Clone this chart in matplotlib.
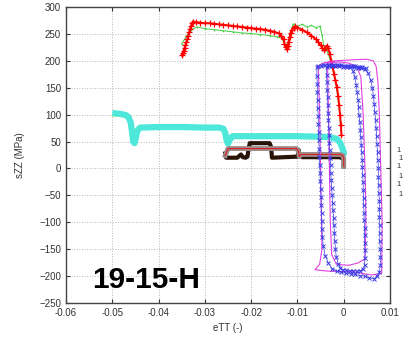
import matplotlib.pyplot as plt

# red "+" series
red_x = [-0.0350, -0.0348, -0.0346, -0.0344, -0.0342, -0.0340, -0.0338, -0.0336, -0.0334, -0.0332,
         -0.0330, -0.0328, -0.0325, -0.0320, -0.0310, -0.0300, -0.0290, -0.0280, -0.0270, -0.0260,
         -0.0250, -0.0240, -0.0230, -0.0220, -0.0210, -0.0200, -0.0190, -0.0180, -0.0170, -0.0160,
         -0.0150, -0.0140, -0.0135, -0.0130, -0.0128, -0.0125, -0.0123, -0.0121, -0.0119, -0.0117,
         -0.0115, -0.0112, -0.0108, -0.0105, -0.0100, -0.0090, -0.0080, -0.0070, -0.0060, -0.0055,
         -0.0050, -0.0046, -0.0043, -0.0040, -0.0037, -0.0034, -0.0030, -0.0027, -0.0024, -0.0021,
         -0.0018, -0.0015, -0.0012, -0.0010, -0.0008, -0.0006, -0.0005]
red_y = [210, 214, 219, 224, 229, 235, 241, 247, 253, 259,
         265, 270, 272, 272, 271, 270, 270, 269, 268, 267,
         266, 265, 264, 263, 262, 261, 260, 259, 258, 256,
         254, 251, 247, 240, 232, 226, 222, 228, 236, 244,
         252, 258, 262, 264, 262, 258, 253, 247, 240, 235,
         229, 224, 220, 224, 228, 224, 213, 200, 188, 176,
         164, 152, 135, 118, 100, 80, 62]

# green thin series
green_x = [-0.0350, -0.0340, -0.0330, -0.0318, -0.0300, -0.0280, -0.0260, -0.0240, -0.0220, -0.0203,
           -0.0180, -0.0160, -0.0145, -0.0134, -0.0128, -0.0124, -0.0118, -0.0112, -0.0109, -0.0100,
           -0.0090, -0.0080, -0.0070, -0.0060, -0.0051, -0.0047, -0.0043, -0.0038, -0.0033, -0.0028,
           -0.0022, -0.0016, -0.0010, -0.0006]
green_y = [232, 246, 257, 263, 260, 258, 256, 254, 252, 251,
           249, 247, 245, 242, 232, 222, 240, 262, 269, 264,
           268, 263, 266, 262, 264, 248, 228, 222, 212, 198,
           180, 152, 112, 70]

# cyan thick series and the yellow one beneath it
cyan_x = [-0.0500, -0.0490, -0.0480, -0.0470, -0.0465, -0.0460, -0.0457, -0.0455, -0.0452, -0.0449,
          -0.0446, -0.0440, -0.0400, -0.0350, -0.0300, -0.0270, -0.0260, -0.0256, -0.0253, -0.0250,
          -0.0247, -0.0243, -0.0240, -0.0200, -0.0150, -0.0100, -0.0050, -0.0030, -0.0015, -0.0008,
          -0.0003, 0.0000, 0.0000]
cyan_y = [103, 102, 101, 99, 95, 85, 65, 50, 47, 58,
          70, 76, 77, 77, 76, 76, 74, 66, 52, 46,
          52, 58, 60, 60, 60, 60, 59, 58, 55, 48,
          38, 30, 24]
yellow_x = [-0.0500, -0.0480, -0.0468, -0.0460, -0.0455, -0.0448, -0.0440, -0.0400, -0.0340, -0.0280]
yellow_y = [98, 97, 94, 80, 48, 66, 73, 73, 73, 73]

# black / grey step curves
black_x = [-0.0256, -0.0254, -0.0230, -0.0222, -0.0218, -0.0212, -0.0208, -0.0206, -0.0203, -0.0160,
           -0.0157, -0.0156, -0.0155, -0.0100, -0.0097, -0.0096, -0.0090, -0.0010, -0.0002, 0.0000, 0.0000]
black_y = [28, 20, 20, 26, 21, 20, 22, 34, 47, 47,
           40, 30, 20, 22, 34, 26, 21, 21, 19, 15, 4]
grey_x = [-0.0256, -0.0250, -0.0102, -0.0098, -0.0096, -0.0092, -0.0008, -0.0002, 0.0000, 0.0000]
grey_y = [24, 37, 37, 32, 22, 26, 26, 24, 18, 4]

# blue "x" hysteresis loops
blue_x = [0.0048, 0.0040, 0.0035, 0.0030, 0.0025, 0.0020, 0.0015, 0.0010, 0.0005, 0.0000,
          -0.0005, -0.0010, -0.0015, -0.0020, -0.0025, -0.0030, -0.0035, -0.0040, -0.0045, -0.0050,
          -0.0055, -0.0058,
          -0.0058, -0.0057, -0.0057, -0.0056, -0.0056, -0.0055, -0.0055, -0.0054, -0.0054, -0.0053,
          -0.0053, -0.0052, -0.0051, -0.0051, -0.0050, -0.0049, -0.0049, -0.0048, -0.0047, -0.0047,
          -0.0046, -0.0044, -0.0040, -0.0033, -0.0025, -0.0015,
          -0.0005, 0.0005, 0.0015, 0.0025, 0.0035, 0.0045, 0.0055, 0.0065, 0.0072, 0.0077,
          0.0079, 0.0079, 0.0079, 0.0078, 0.0078, 0.0078, 0.0077, 0.0077, 0.0077, 0.0076,
          0.0076, 0.0075, 0.0075, 0.0074, 0.0073, 0.0072, 0.0071, 0.0070, 0.0069, 0.0067,
          0.0066, 0.0064, 0.0062, 0.0058, 0.0052,
          0.0045, 0.0038, 0.0030, 0.0022, 0.0014, 0.0006, -0.0002, -0.0010, -0.0018, -0.0026,
          -0.0032, -0.0037,
          -0.0037, -0.0036, -0.0036, -0.0035, -0.0034, -0.0034, -0.0033, -0.0032, -0.0031, -0.0031,
          -0.0030, -0.0029, -0.0028, -0.0028, -0.0027, -0.0026, -0.0025, -0.0024, -0.0023, -0.0022,
          -0.0021, -0.0020, -0.0019, -0.0018, -0.0016, -0.0012, -0.0007, -0.0002,
          0.0005, 0.0013, 0.0021, 0.0029, 0.0036, 0.0041, 0.0045,
          0.0046, 0.0046, 0.0045, 0.0045, 0.0045, 0.0044, 0.0044, 0.0043, 0.0043, 0.0042,
          0.0042, 0.0041, 0.0040, 0.0040, 0.0039, 0.0038, 0.0037, 0.0036, 0.0035, 0.0033,
          0.0032, 0.0031, 0.0029, 0.0027, 0.0024, 0.0020]
blue_y = [186, 188, 189, 189, 190, 190, 190, 191, 191, 191,
          192, 192, 192, 193, 193, 193, 193, 192, 192, 191,
          190, 188,
          172, 157, 142, 127, 112, 97, 82, 67, 52, 37,
          22, 7, -8, -23, -38, -53, -68, -83, -98, -113,
          -128, -145, -162, -176, -186, -191,
          -193, -195, -196, -197, -199, -200, -203, -205, -200, -193,
          -180, -165, -150, -135, -120, -105, -90, -75, -60, -45,
          -30, -15, 0, 15, 30, 45, 60, 75, 90, 105,
          120, 135, 150, 165, 178,
          184, 186, 187, 188, 188, 189, 189, 190, 190, 190,
          190, 188,
          174, 160, 146, 132, 118, 104, 90, 76, 62, 48,
          34, 20, 6, -8, -22, -36, -50, -64, -78, -92,
          -106, -120, -134, -150, -165, -177, -185, -188,
          -189, -190, -190, -191, -190, -187, -180,
          -166, -152, -138, -124, -110, -96, -82, -68, -54, -40,
          -26, -12, 2, 16, 30, 44, 58, 72, 86, 100,
          114, 128, 142, 156, 170, 182]

# magenta thin loops
mag_x = [-0.0055, -0.0052, -0.0050, -0.0048, -0.0047, -0.0052, -0.0062, -0.0045, -0.0030, 0.0020,
         0.0060, 0.0082, 0.0083, 0.0080, 0.0077, 0.0074, 0.0070, 0.0064, 0.0050, 0.0020,
         -0.0020, -0.0045, -0.0055, None,
         -0.0035, -0.0033, -0.0031, -0.0029, -0.0026, -0.0016, 0.0010, 0.0030, 0.0046, 0.0048,
         0.0046, 0.0042, 0.0037, 0.0028, 0.0010, -0.0010, -0.0035]
mag_y = [190, 100, 0, -100, -150, -178, -188, -190, -191, -192,
         -198, -195, -100, 0, 100, 160, 190, 200, 203, 202,
         200, 196, 190, None,
         196, 100, 0, -100, -160, -178, -180, -176, -168, -100,
         0, 100, 170, 190, 196, 198, 196]

x_ticks = [-0.06, -0.05, -0.04, -0.03, -0.02, -0.01, 0, 0.01]
x_labels = ['-0.06', '-0.05', '-0.04', '-0.03', '-0.02', '-0.01', '0', '0.01']
y_ticks = [-250, -200, -150, -100, -50, 0, 50, 100, 150, 200, 250, 300]
side_labels = ['1', '1', '1', '1', '1', '1']

plt.rcParams['font.family'] = ['Liberation Sans', 'DejaVu Sans']

fig = plt.figure(figsize=(4.05, 3.37), dpi=100)
ax = fig.add_axes([0.163, 0.101, 0.8, 0.878])

ax.plot(green_x, green_y, color='#40d040', lw=0.7, marker='+', ms=2, mew=0.4)
ax.plot(red_x, red_y, color='red', lw=1.4, marker='+', ms=4, mew=0.9)
ax.plot(yellow_x, yellow_y, color='#e6e640', lw=1.0)
ax.plot(cyan_x, cyan_y, color='#4de8da', lw=4.5, solid_capstyle='butt')
ax.plot(black_x, black_y, color='#2a1408', lw=3.0)
ax.plot(grey_x, grey_y, color='#9a8c8c', lw=3.5)
ax.plot(grey_x, grey_y, color='#e02020', lw=0.8)
ax.plot(mag_x, mag_y, color='#e040e0', lw=0.8)
ax.plot(blue_x, blue_y, color='#3a3ae6', lw=0.5, marker='x', ms=3.5, mew=0.7, ls='-')

ax.text(-0.0544, -223, '19-15-H', fontsize=21.5, fontweight='bold', ha='left', va='baseline')

ax.set_xlim(-0.06, 0.01)
ax.set_ylim(-250, 300)
ax.set_xticks(x_ticks)
ax.set_xticklabels(x_labels)
ax.set_yticks(y_ticks)
ax.tick_params(direction='in', top=True, right=True, labelsize=7, length=3, width=0.8, colors='#333333')
ax.grid(True, ls=':', color='#b8b8b8', lw=0.7)
for s in ax.spines.values():
    s.set_color('#444444')
    s.set_linewidth(1.0)
ax.set_xlabel('eTT (-)', fontsize=7, color='#333333', labelpad=4)
ax.set_ylabel('sZZ (MPa)', fontsize=7, color='#333333', labelpad=10)

side_y = [150, 158, 167, 176, 185, 194]
side_x = [396, 398, 396, 398, 396, 398]
for sx, sy, lab in zip(side_x, side_y, side_labels):
    fig.text(sx / 405, 1 - sy / 337, lab, fontsize=5.5, color='#333333', va='center')

fig.savefig('out.png', dpi=100)
